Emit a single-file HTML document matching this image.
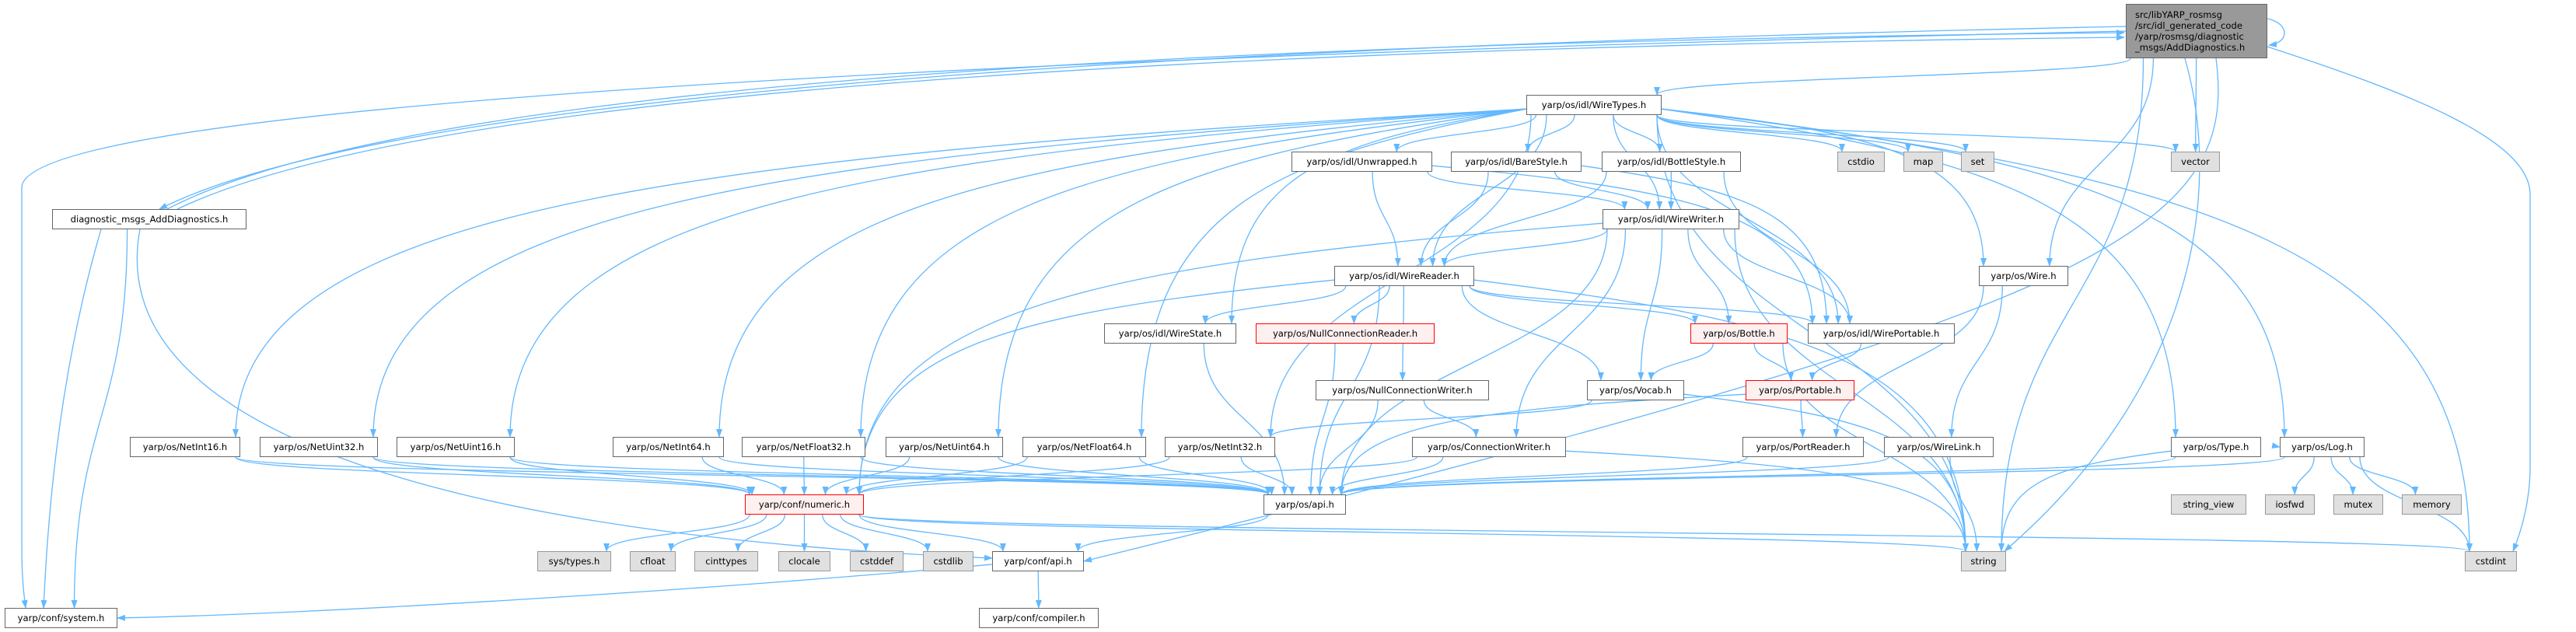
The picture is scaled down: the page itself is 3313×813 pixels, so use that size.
<!DOCTYPE html>
<html><head><meta charset="utf-8">
<style>
html,body{margin:0;padding:0;background:#fff;}
#wrap{position:relative;width:3313px;height:813px;overflow:hidden;background:#fff;}
svg{position:absolute;left:0;top:0;}
.n{position:absolute;box-sizing:border-box;border:1.5px solid #666;background:#fff;font-family:"DejaVu Sans","Liberation Sans",sans-serif;font-size:11.6px;color:#000;display:flex;align-items:center;justify-content:center;white-space:nowrap;line-height:14px;}
.g{background:#e0e0e0;border-color:#999;}
.r{background:#fff0f0;border-color:#f00;}
.m{background:#999;border-color:#666;justify-content:flex-start;padding-left:11px;text-align:left;}
</style></head><body>
<div id="wrap">
<svg id="sv" width="3313" height="813" viewBox="0 0 3313 813"></svg>
<div class="n m" id="main" style="left:2734px;top:5px;width:182px;height:70px;">src/libYARP_rosmsg<br>/src/idl_generated_code<br>/yarp/rosmsg/diagnostic<br>_msgs/AddDiagnostics.h</div>
<div class="n" id="diag" style="left:67px;top:269px;width:250px;height:26px;">diagnostic_msgs_AddDiagnostics.h</div>
<div class="n" id="wt" style="left:1963px;top:122px;width:174px;height:26px;">yarp/os/idl/WireTypes.h</div>
<div class="n" id="unw" style="left:1661px;top:195px;width:181px;height:26px;">yarp/os/idl/Unwrapped.h</div>
<div class="n" id="bare" style="left:1866px;top:195px;width:168px;height:26px;">yarp/os/idl/BareStyle.h</div>
<div class="n" id="bots" style="left:2060px;top:195px;width:179px;height:26px;">yarp/os/idl/BottleStyle.h</div>
<div class="n g" id="cstdio" style="left:2363px;top:195px;width:61px;height:26px;">cstdio</div>
<div class="n g" id="map" style="left:2448px;top:195px;width:51px;height:26px;">map</div>
<div class="n g" id="set" style="left:2522px;top:195px;width:43px;height:26px;">set</div>
<div class="n g" id="vector" style="left:2792px;top:195px;width:63px;height:26px;">vector</div>
<div class="n" id="ww" style="left:2061px;top:269px;width:176px;height:26px;">yarp/os/idl/WireWriter.h</div>
<div class="n" id="wr" style="left:1716px;top:342px;width:180px;height:26px;">yarp/os/idl/WireReader.h</div>
<div class="n" id="wire" style="left:2545px;top:342px;width:115px;height:26px;">yarp/os/Wire.h</div>
<div class="n" id="ws" style="left:1420px;top:416px;width:170px;height:26px;">yarp/os/idl/WireState.h</div>
<div class="n r" id="ncr" style="left:1615px;top:416px;width:230px;height:26px;">yarp/os/NullConnectionReader.h</div>
<div class="n r" id="bottle" style="left:2174px;top:416px;width:125px;height:26px;">yarp/os/Bottle.h</div>
<div class="n" id="wp" style="left:2325px;top:416px;width:189px;height:26px;">yarp/os/idl/WirePortable.h</div>
<div class="n" id="ncw" style="left:1692px;top:489px;width:223px;height:26px;">yarp/os/NullConnectionWriter.h</div>
<div class="n" id="vocab" style="left:2041px;top:489px;width:125px;height:26px;">yarp/os/Vocab.h</div>
<div class="n r" id="portable" style="left:2245px;top:489px;width:140px;height:26px;">yarp/os/Portable.h</div>
<div class="n" id="ni16" style="left:167px;top:562px;width:142px;height:26px;">yarp/os/NetInt16.h</div>
<div class="n" id="nu32" style="left:334px;top:562px;width:152px;height:26px;">yarp/os/NetUint32.h</div>
<div class="n" id="nu16" style="left:510px;top:562px;width:152px;height:26px;">yarp/os/NetUint16.h</div>
<div class="n" id="ni64" style="left:788px;top:562px;width:143px;height:26px;">yarp/os/NetInt64.h</div>
<div class="n" id="nf32" style="left:954px;top:562px;width:159px;height:26px;">yarp/os/NetFloat32.h</div>
<div class="n" id="nu64" style="left:1139px;top:562px;width:151px;height:26px;">yarp/os/NetUint64.h</div>
<div class="n" id="nf64" style="left:1315px;top:562px;width:159px;height:26px;">yarp/os/NetFloat64.h</div>
<div class="n" id="ni32" style="left:1498px;top:562px;width:142px;height:26px;">yarp/os/NetInt32.h</div>
<div class="n" id="cw" style="left:1816px;top:562px;width:198px;height:26px;">yarp/os/ConnectionWriter.h</div>
<div class="n" id="pr" style="left:2241px;top:562px;width:156px;height:26px;">yarp/os/PortReader.h</div>
<div class="n" id="wl" style="left:2423px;top:562px;width:141px;height:26px;">yarp/os/WireLink.h</div>
<div class="n" id="type" style="left:2792px;top:562px;width:116px;height:26px;">yarp/os/Type.h</div>
<div class="n" id="log" style="left:2932px;top:562px;width:109px;height:26px;">yarp/os/Log.h</div>
<div class="n r" id="num" style="left:958px;top:636px;width:153px;height:26px;">yarp/conf/numeric.h</div>
<div class="n" id="osapi" style="left:1625px;top:636px;width:106px;height:26px;">yarp/os/api.h</div>
<div class="n g" id="sv" style="left:2792px;top:636px;width:97px;height:26px;">string_view</div>
<div class="n g" id="iosfwd" style="left:2913px;top:636px;width:64px;height:26px;">iosfwd</div>
<div class="n g" id="mutex" style="left:3001px;top:636px;width:64px;height:26px;">mutex</div>
<div class="n g" id="memory" style="left:3089px;top:636px;width:77px;height:26px;">memory</div>
<div class="n g" id="systypes" style="left:691px;top:709px;width:95px;height:26px;">sys/types.h</div>
<div class="n g" id="cfloat" style="left:810px;top:709px;width:59px;height:26px;">cfloat</div>
<div class="n g" id="cinttypes" style="left:893px;top:709px;width:82px;height:26px;">cinttypes</div>
<div class="n g" id="clocale" style="left:1001px;top:709px;width:67px;height:26px;">clocale</div>
<div class="n g" id="cstddef" style="left:1093px;top:709px;width:69px;height:26px;">cstddef</div>
<div class="n g" id="cstdlib" style="left:1187px;top:709px;width:65px;height:26px;">cstdlib</div>
<div class="n" id="capi" style="left:1276px;top:709px;width:118px;height:26px;">yarp/conf/api.h</div>
<div class="n g" id="string" style="left:2522px;top:709px;width:58px;height:26px;">string</div>
<div class="n g" id="cstdint" style="left:3170px;top:709px;width:67px;height:26px;">cstdint</div>
<div class="n" id="system" style="left:6px;top:782px;width:145px;height:26px;">yarp/conf/system.h</div>
<div class="n" id="compiler" style="left:1259px;top:782px;width:154px;height:26px;">yarp/conf/compiler.h</div>
</div>
<script>
(function(){
var NS="http://www.w3.org/2000/svg",sv=document.getElementById("sv");
var C="#63b8ff";
var defs=document.createElementNS(NS,"defs");
defs.innerHTML='<marker id="a" markerWidth="11" markerHeight="8" refX="10" refY="4" orient="auto" markerUnits="userSpaceOnUse"><path d="M0,0 L11,4 L0,8 z" fill="'+C+'"/></marker>';
sv.appendChild(defs);
function box(id){var e=document.getElementById(id);return {x:e.offsetLeft,y:e.offsetTop,w:e.offsetWidth,h:e.offsetHeight};}
function path(d){var p=document.createElementNS(NS,"path");p.setAttribute("d",d);p.setAttribute("fill","none");p.setAttribute("stroke",C);p.setAttribute("stroke-width","1.3");p.setAttribute("marker-end","url(#a)");sv.appendChild(p);}
function cl(v,a){return Math.max(-a,Math.min(a,v));}
function edge(s,t){
 var a=box(s),b=box(t);
 var acx=a.x+a.w/2,bcx=b.x+b.w/2;
 if(b.y>=a.y+a.h-2){
  var dx=bcx-acx,dy=b.y-(a.y+a.h);
  var tx=bcx+cl((acx-bcx)*0.15,b.w/2-6),ty=b.y;
  if(dy>100 && Math.abs(dx)>2.5*a.w && Math.abs(dx)>dy*1.5){
   var sx=dx<0?a.x:a.x+a.w, sy=a.y+a.h*0.7;
   path("M"+sx+","+sy+" C"+(tx+(sx-tx)*0.35)+","+(sy+dy*0.15)+" "+tx+","+(sy+dy*0.3)+" "+tx+","+ty);
  } else {
   var sx=acx+cl(dx*0.25,a.w/2-6),sy=a.y+a.h;
   var k=(ty-sy)*0.5;
   path("M"+sx+","+sy+" C"+sx+","+(sy+k)+" "+tx+","+(ty-k)+" "+tx+","+ty);
  }
 } else {
  var sy2=a.y+a.h/2,ty2=b.y+b.h/2,sx2,tx2;
  if(bcx>acx){sx2=a.x+a.w;tx2=b.x;}else{sx2=a.x;tx2=b.x+b.w;}
  var m=(sx2+tx2)/2;
  path("M"+sx2+","+sy2+" C"+m+","+sy2+" "+m+","+ty2+" "+tx2+","+ty2);
 }
}
var E=[
["main","wt"],["main","vector"],["main","wire"],["main","string"],
["wt","ni16"],["wt","nu32"],["wt","nu16"],["wt","ni64"],["wt","nf32"],["wt","nu64"],["wt","nf64"],["wt","ni32"],
["wt","unw"],["wt","bare"],["wt","bots"],["wt","ww"],["wt","wr"],["wt","ws"],["wt","wp"],["wt","cstdio"],["wt","map"],["wt","set"],["wt","vector"],["wt","wire"],["wt","type"],["wt","log"],["wt","string"],["wt","cstdint"],
["unw","wr"],["unw","ww"],["unw","wp"],["bare","wr"],["bare","ww"],["bare","wp"],["bots","wr"],["bots","ww"],["bots","wp"],
["ww","wr"],["ww","num"],["ww","osapi"],["ww","vocab"],["ww","bottle"],["ww","wp"],["ww","cw"],["ww","string"],
["wr","ws"],["wr","ncr"],["wr","ncw"],["wr","vocab"],["wr","bottle"],["wr","wp"],["wr","num"],["wr","osapi"],["wr","string"],
["ws","osapi"],["ncr","osapi"],["ncw","osapi"],["ncw","cw"],["vocab","ni32"],["vocab","string"],
["bottle","vocab"],["bottle","portable"],["bottle","string"],["wp","portable"],["portable","pr"],["portable","osapi"],
["pr","osapi"],["wl","osapi"],["wl","string"],["wire","pr"],["wire","wl"],["type","osapi"],["type","string"],
["log","osapi"],["log","sv"],["log","iosfwd"],["log","mutex"],["log","memory"],["log","cstdint"],
["cw","osapi"],["cw","num"],["cw","string"],
["ni16","num"],["ni16","osapi"],["nu32","num"],["nu32","osapi"],["nu16","num"],["nu16","osapi"],["ni64","num"],["ni64","osapi"],
["nf32","num"],["nf32","osapi"],["nu64","num"],["nu64","osapi"],["nf64","num"],["nf64","osapi"],["ni32","num"],["ni32","osapi"],
["num","systypes"],["num","cfloat"],["num","cinttypes"],["num","clocale"],["num","cstddef"],["num","cstdlib"],["num","capi"],["num","cstdint"],["num","string"],
["osapi","capi"],["capi","compiler"],["diag","system"]
];
E.forEach(function(e){edge(e[0],e[1]);});
path("M2734,34 C1500,60 500,120 205,269");
path("M215,269 C520,110 1500,55 2732,42");
path("M228,269 C540,120 1500,62 2732,48");
path("M2734,40 C1400,70 40,130 28,240 L28,700 C28,740 30,760 33,782");
path("M2916,24 C2945,30 2945,55 2918,58");
path("M2916,60 C3100,120 3254,180 3254,250 L3254,600 C3254,650 3240,690 3232,709");
path("M2850,75 C2880,300 2700,400 1394,722");
path("M2810,75 C2860,250 2820,500 2578,709");
path("M130,295 C70,500 60,700 56,782");
path("M180,295 C130,560 600,690 1276,718");
path("M1276,726 C900,760 400,790 151,795");
})();
</script>
</body></html>
